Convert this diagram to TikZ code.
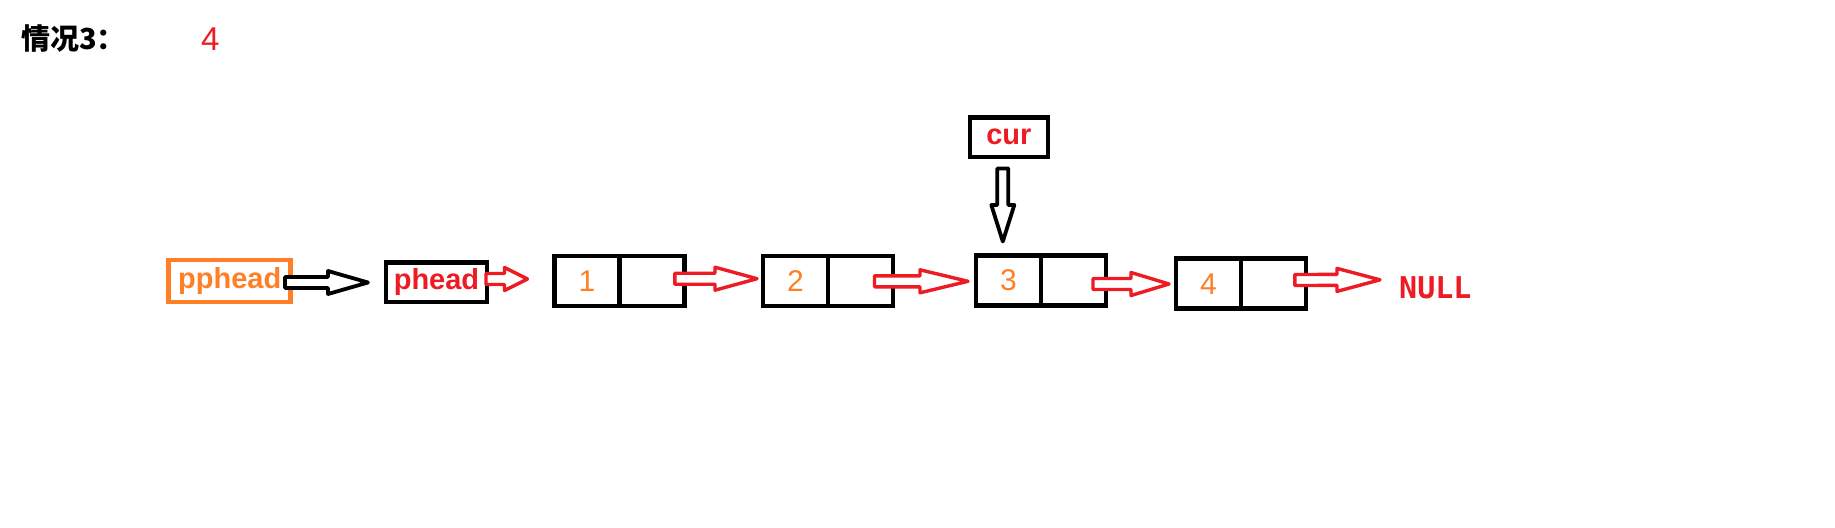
\documentclass[tikz,border=0pt]{standalone}
\usepackage{fontspec}
\setmainfont{Liberation Sans}
\newfontfamily\cjk{Noto Sans CJK SC}
\newfontfamily\endmono{DejaVu Sans Mono}
\usetikzlibrary{calc}
\definecolor{paintred}{HTML}{ED1C24}
\definecolor{paintorange}{HTML}{FF7F27}

% hollow block arrow: #1 style, #2 start, #3 tip, #4 head length
\newcommand{\blockarrow}[4][]{%
  \coordinate (hb) at ($(#3)!#4!(#2)$);
  \filldraw[#1] ($(#2)!5.5pt!90:(#3)$) -- ($(hb)!5.5pt!90:(#3)$) -- ($(hb)!11.5pt!90:(#3)$) -- (#3)
    -- ($(hb)!11.5pt!-90:(#3)$) -- ($(hb)!5.5pt!-90:(#3)$) -- ($(#2)!5.5pt!-90:(#3)$) -- cycle;}

\begin{document}
\begin{tikzpicture}[x=1pt, y=-1pt,
    ptrbox/.style={draw, line width=4.5pt, outer sep=0pt, inner sep=0pt,
      font=\fontsize{29}{34}\selectfont\bfseries},
    cell/.style={draw, line width=4.5pt, outer sep=0pt, inner sep=0pt,
      minimum width=65pt, minimum height=50pt, text=paintorange,
      font=\fontsize{30}{36}\selectfont},
    redarrow/.style={draw=paintred, fill=white, line width=3.4pt, line join=round},
    blackarrow/.style={draw=black, fill=white, line width=3.8pt, line join=round}]
    \fill[white] (0,0) rectangle (1835,527);
    \useasboundingbox (0,0) rectangle (1835,527);

    % Title
    \node[anchor=base west, inner sep=0pt, font=\cjk\bfseries\fontsize{29}{34}\selectfont] (title) at (21,49) {情况3：};
    \node[anchor=base west, inner sep=0pt, text=paintred, font=\fontsize{33}{40}\selectfont] (cnt) at (201,51) {4};

    % Pointers
    \node[ptrbox, draw=paintorange, text=paintorange, minimum width=122pt, minimum height=42pt] (pphead) at (229.7,281) {pphead};
    \node[ptrbox, text=paintred, minimum width=101pt, minimum height=39.3pt] (phead) at (436.5,282.3) {phead};
    \node[ptrbox, text=paintred, minimum width=78.3pt, minimum height=39.3pt] (cur) at (1008.9,137.3) {cur};

    % List nodes
    \foreach \i/\x/\y in {1/587/281, 2/795.5/281, 3/1008.5/280.5, 4/1208.5/283.7} {
        \node[cell] (n\i) at (\x,\y) {\i};
        \node[cell, anchor=west] (p\i) at (n\i.east) {};
    }
    \node[inner sep=0pt, text=paintred, font=\endmono\bfseries\fontsize{30}{36}\selectfont] (null) at (1435.3,287.8) {NULL};

    % Arrows
    \coordinate (s1) at ($(pphead.east)+(-5.7,1.5)$);
    \coordinate (t1) at ($(phead.west)+(-18,0.2)$);
    \coordinate (s2) at ($(phead.east)+(-1,-3.3)$);
    \coordinate (t2) at ($(n1.west)+(-27,-2)$);
    \coordinate (s3) at ($(p1.east)+(-9.7,-2.3)$);
    \coordinate (t3) at ($(n2.west)+(-6,-2.3)$);
    \coordinate (s4) at ($(p2.east)+(-18.5,0.3)$);
    \coordinate (t4) at ($(n3.west)+(-8,0.8)$);
    \coordinate (s5) at ($(p3.east)+(-13,3.5)$);
    \coordinate (t5) at ($(n4.west)+(-7,0.3)$);
    \coordinate (s6) at ($(p4.east)+(-11.2,-3.7)$);
    \coordinate (t6) at ($(null.west)+(-19,-8)$);
    \coordinate (s7) at ($(cur.south)+(-6.1,11.5)$);
    \coordinate (t7) at ($(n3.north)+(-5.7,-14)$);

    \blockarrow[blackarrow]{s1}{t1}{40pt}
    \blockarrow[redarrow]{s2}{t2}{23pt}
    \blockarrow[redarrow]{s3}{t3}{42pt}
    \blockarrow[redarrow]{s4}{t4}{48pt}
    \blockarrow[redarrow]{s5}{t5}{38pt}
    \blockarrow[redarrow]{s6}{t6}{43pt}
    \blockarrow[blackarrow]{s7}{t7}{36.5pt}
\end{tikzpicture}
\end{document}
